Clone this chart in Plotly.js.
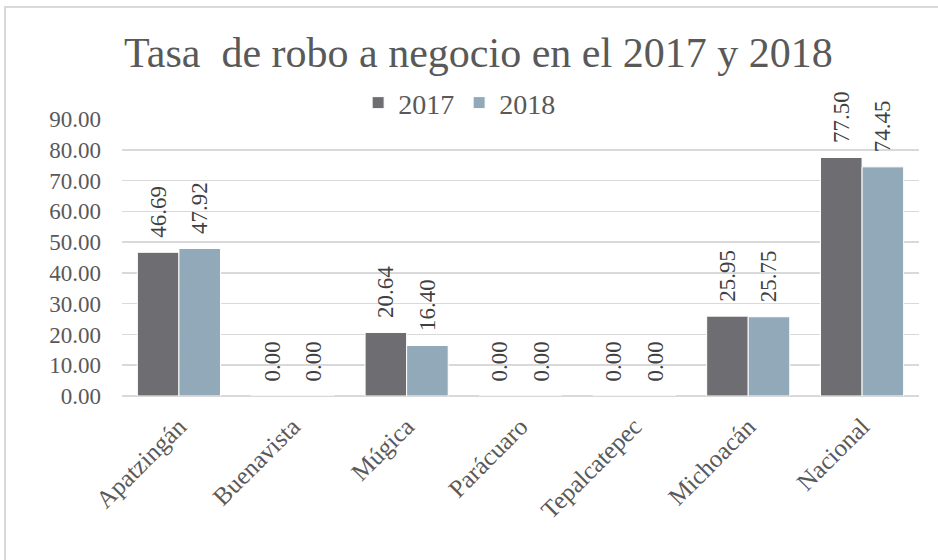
<!DOCTYPE html>
<html>
<head>
<meta charset="utf-8">
<script src="https://cdn.plot.ly/plotly-3.0.1.min.js"></script>
<style>
  body { margin: 0; background: #fff; }
  #wrap { position: relative; width: 938px; height: 560px; overflow: hidden; }
  #chart { position: absolute; left: 0; top: 0; width: 938px; height: 560px; }
  #frame { position: absolute; left: 4px; top: 6px; width: 960px; height: 600px;
           border: 2px solid #d9d9d9; pointer-events: none; }
</style>
</head>
<body>
<div id="wrap">
  <div id="chart"></div>
  <div id="frame"></div>
</div>
<script>
// datos
const municipios = ['Apatzingán', 'Buenavista', 'Múgica', 'Parácuaro', 'Tepalcatepec', 'Michoacán', 'Nacional'];
const tasa2017 = [46.69, 0.00, 20.64, 0.00, 0.00, 25.95, 77.50];
const tasa2018 = [47.92, 0.00, 16.40, 0.00, 0.00, 25.75, 74.45];
const yTicks = [0, 10, 20, 30, 40, 50, 60, 70, 80, 90];

const serif = "'Liberation Serif', serif";

function serie(nombre, valores, color) {
    return {
        x: municipios,
        y: valores,
        name: nombre,
        type: 'bar',
        // espacio extra entre la barra y la etiqueta
        text: valores.map(v => '\u00a0\u00a0' + v.toFixed(2)),
        textposition: 'outside',
        textangle: -90,
        constraintext: 'none',
        cliponaxis: false,
        textfont: { family: serif, size: 23, color: '#404040' },
        hoverinfo: 'x+y',
        marker: { color: color, line: { color: '#ffffff', width: 1 } }
    };
}

const traces = [
    serie('2017', tasa2017, '#6e6d72'),
    serie('2018', tasa2018, '#91a9b9')
];

const layout = {
    width: 938,
    height: 560,
    margin: { l: 122, r: 19, t: 119, b: 164 },
    paper_bgcolor: '#ffffff',
    plot_bgcolor: '#ffffff',
    barmode: 'group',
    bargap: 0.27,
    bargroupgap: 0,
    title: {
        text: 'Tasa&nbsp; de robo a negocio en el 2017 y 2018',
        font: { family: serif, size: 42, color: '#595959' },
        x: 0.51, xanchor: 'center',
        y: 0.907, yanchor: 'middle'
    },
    showlegend: true,
    legend: {
        orientation: 'h',
        x: 0.423, xanchor: 'center',
        y: 1.058, yanchor: 'middle',
        font: { family: serif, size: 28, color: '#595959' },
        itemwidth: 30,
        traceorder: 'normal'
    },
    xaxis: {
        tickangle: -45,
        tickfont: { family: serif, size: 25, color: '#595959' },
        showline: false,
        ticks: '',
        showgrid: false,
        ticklabelstandoff: 10
    },
    yaxis: {
        range: [0, 90],
        tickvals: yTicks,
        ticktext: yTicks.map(v => v.toFixed(2)),
        tickfont: { family: serif, size: 23, color: '#595959' },
        gridcolor: '#d9d9d9',
        gridwidth: 1.5,
        zeroline: true,
        zerolinecolor: '#d9d9d9',
        zerolinewidth: 1.5,
        showline: false,
        ticks: '',
        ticklabelstandoff: 20
    }
};

Plotly.newPlot('chart', traces, layout, { displayModeBar: false, staticPlot: true });
</script>
</body>
</html>
